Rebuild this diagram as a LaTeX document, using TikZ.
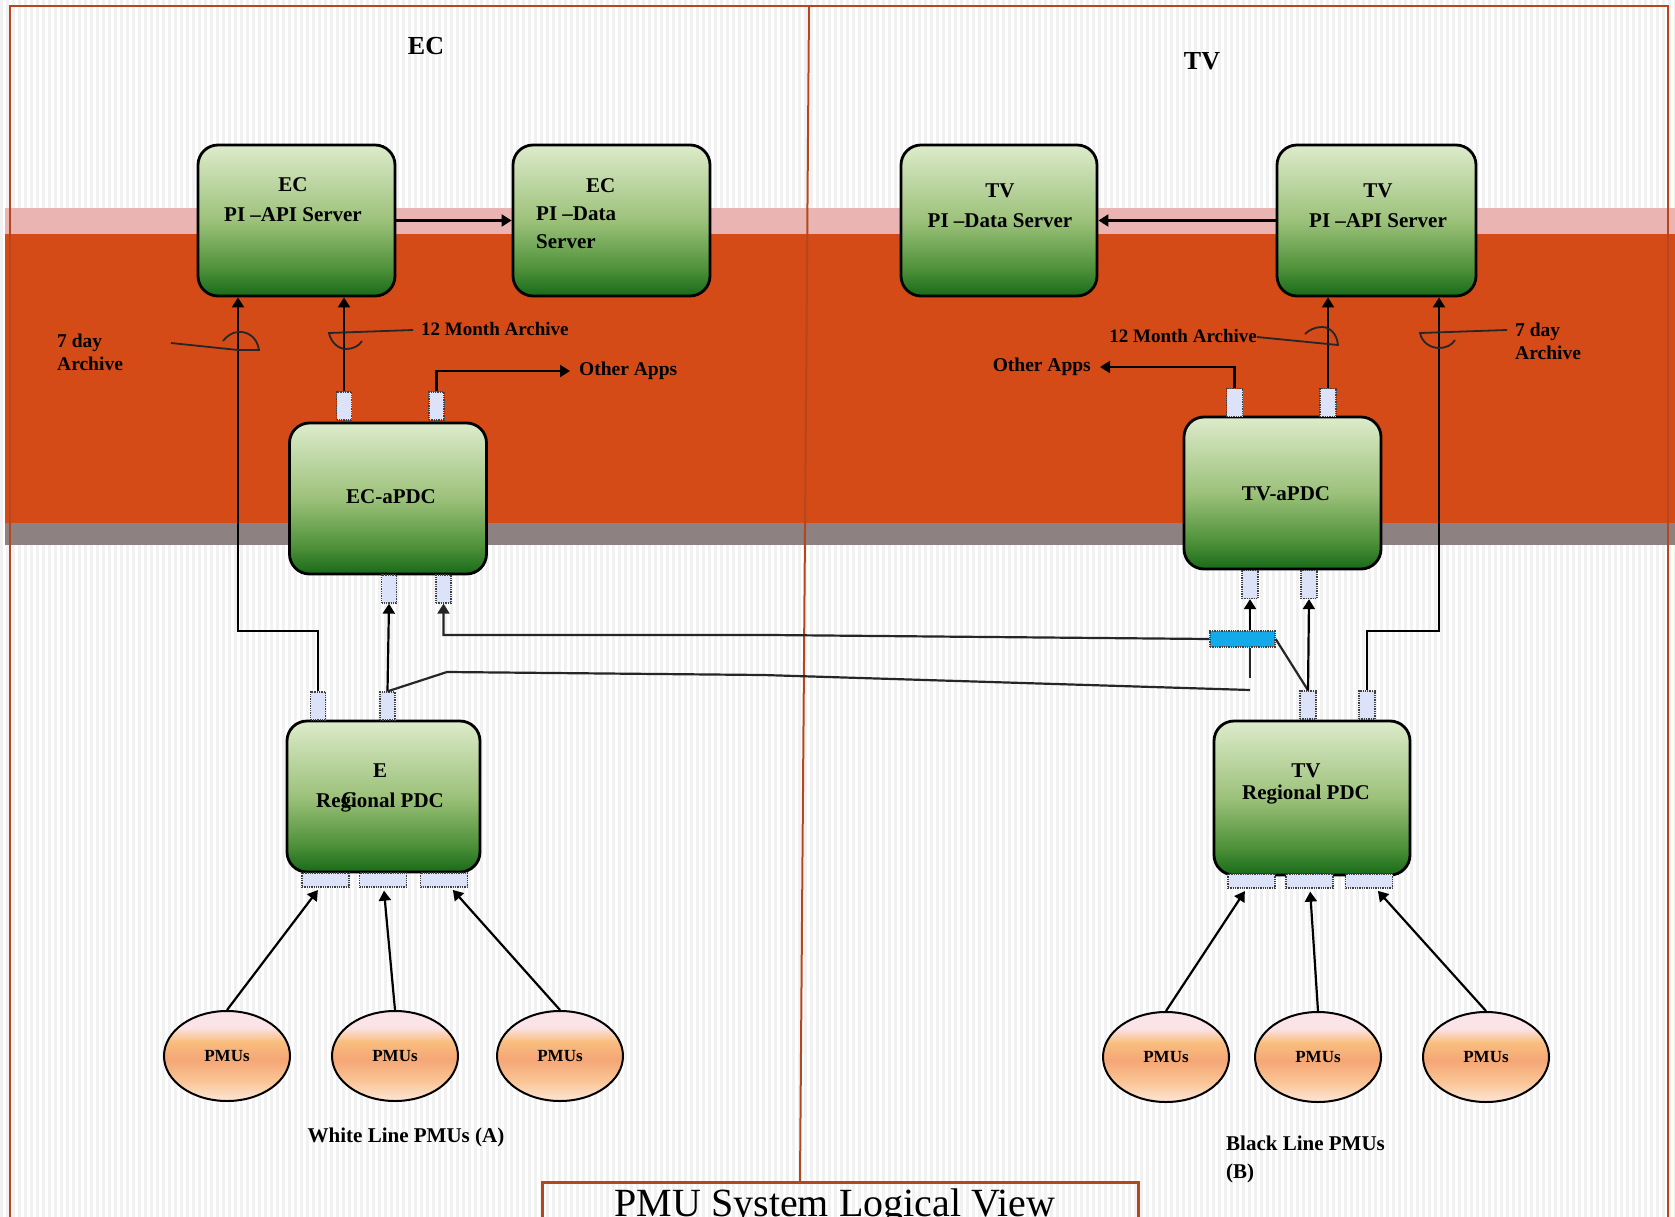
\documentclass[tikz,border=0pt]{standalone}
\usepackage{fontspec}
\setmainfont{Liberation Serif}
\usetikzlibrary{shapes.geometric,arrows.meta,positioning,calc}

\definecolor{frameC}{HTML}{B5461E}
\definecolor{bandOrange}{HTML}{D44B17}
\definecolor{bandPink}{HTML}{E9B4B1}
\definecolor{bandGray}{HTML}{8E8182}
\definecolor{portFill}{HTML}{DCE2F7}
\definecolor{linkBlue}{HTML}{14A9E8}
\definecolor{greenD}{HTML}{186A19}
\definecolor{greenM}{HTML}{4E9139}
\definecolor{greenL}{HTML}{9CC17A}
\definecolor{greenT}{HTML}{DDEBCB}
\definecolor{pmuBot}{HTML}{FDE6D8}
\definecolor{pmuLow}{HTML}{FAC596}
\definecolor{pmuMid}{HTML}{F5A676}
\definecolor{pmuHigh}{HTML}{F9BE7E}
\definecolor{pmuTop}{HTML}{FBE4E8}

\pgfdeclareverticalshading{boxshade}{100bp}{color(0bp)=(greenD); color(25bp)=(greenD);
  color(34bp)=(greenM); color(50bp)=(greenL); color(75bp)=(greenT); color(100bp)=(greenT)}
\pgfdeclareverticalshading{pmushade}{100bp}{color(0bp)=(pmuBot); color(25bp)=(pmuBot);
  color(36bp)=(pmuLow); color(48bp)=(pmuMid); color(58bp)=(pmuHigh); color(66bp)=(pmuTop);
  color(75bp)=(pmuTop); color(100bp)=(pmuTop)}

\tikzset{
  pdcbox/.style={draw, line width=2.8pt, rounded corners=20pt, shading=boxshade,
    minimum width=197pt, minimum height=151pt, inner sep=0pt},
  pmu/.style={ellipse, draw, line width=2pt, shading=pmushade, minimum width=126pt,
    minimum height=90pt, inner sep=0pt, font=\bfseries\fontsize{17}{19}\selectfont},
  vport/.style={draw=black!75, densely dotted, line width=1.3pt, fill=portFill,
    minimum width=15pt, minimum height=28pt, inner sep=0pt},
  hport/.style={vport, minimum width=47pt, minimum height=14pt},
  lbl/.style={inner sep=0pt, align=center, font=\bfseries\fontsize{21}{30}\selectfont},
  small/.style={lbl, font=\bfseries\fontsize{19.5}{22}\selectfont},
  side/.style={lbl, font=\bfseries\fontsize{26}{30}\selectfont},
  arr/.style={-{Triangle[width=12pt,length=10pt]}, line width=2.2pt},
  wire/.style={line width=2.2pt, black!85},
  tie/.style={line width=1.8pt, black!85}
}

\begin{document}
\begin{tikzpicture}[x=1pt, y=-1pt]
  \useasboundingbox (0,0) rectangle (1675,1217);
  % striped background and bands
  \foreach \i in {0,6,...,1674}
    \fill[gray!11] (\i,0) rectangle ++(2.6,1217);
  \fill[bandPink] (5,208) rectangle (1675,234);
  \fill[bandOrange] (5,234) rectangle (1675,523);
  \fill[bandGray] (5,523) rectangle (1675,545);
  \draw[frameC, line width=2.5pt] (10,1217) -- (10,6) -- (1668,6) -- (1668,1217);
  \draw[frameC, line width=2pt] (809,6) -- (800,1182);

  % EC side
  \node[side] (ec) at (426,46) {EC};
  \node[pdcbox] (ecapi) at (296.5,220.5) {};
  \node[pdcbox] (ecdata) at (611.5,220.5) {};
  \node[pdcbox] (ecapdc) at (388,498.5) {};
  \node[pdcbox, minimum width=193pt] (ecrpdc) at (383.5,796.5) {};
  \node[lbl] (ecapitxt) at (293,200) {EC\\PI –API Server};
  \node[lbl, align=left, font=\bfseries\fontsize{21}{28}\selectfont, anchor=west]
    (ecdatatxt) at (536,214) {\hspace*{50pt}EC\\PI –Data\\Server};
  \node[lbl] (ecapdctxt) at (391,497) {EC-aPDC};
  \node[lbl] (ecrpdctxt) at (380,788) {E\\Regional PDC};
  \node[lbl] (ecglitch) at (349,800) {C};

  \node[vport] (ecat1) at (344,406) {};   % aPDC top
  \node[vport] (ecat2) at (436.5,406) {};
  \node[vport] (ecab1) at (389,589) {};   % aPDC bottom
  \node[vport] (ecab2) at (443.5,589) {};
  \node[vport] (ect1) at (318,706) {};    % regional top
  \node[vport] (ect2) at (387.5,706) {};
  \node[hport] (ecb1) at (325.5,880) {};  % regional bottom
  \node[hport] (ecb2) at (383,880) {};
  \node[hport] (ecb3) at (444,880) {};

  \node[pmu] (pmua) at (227,1056) {PMUs};
  \node[pmu] (pmub) at (395,1056) {PMUs};
  \node[pmu] (pmuc) at (560,1056) {PMUs};
  \node[lbl] (whiteline) at (406,1137) {White Line PMUs (A)};

  \node[small, align=left, anchor=west] (ec7day) at (57,352) {7 day\\[1pt]Archive};
  \node[small, font=\bfseries\fontsize{19}{22}\selectfont, anchor=west] (ec12m) at (421,329) {12 Month Archive};
  \node[small, anchor=west, inner xsep=9pt] (ecapps) at (570,371) {Other Apps};

  % TV side
  \node[side] (tv) at (1202,61) {TV};
  \node[pdcbox, minimum width=196pt] (tvdata) at (999,220.5) {};
  \node[pdcbox, minimum width=199pt] (tvapi) at (1376.5,220.5) {};
  \node[pdcbox, minimum height=152pt] (tvapdc) at (1282.5,493) {};
  \node[pdcbox, minimum width=196pt, minimum height=154pt] (tvrpdc) at (1312,798) {};
  \node[lbl] (tvdatatxt) at (1000,206) {TV\\PI –Data Server};
  \node[lbl] (tvapitxt) at (1378,206) {TV\\PI –API Server};
  \node[lbl] (tvapdctxt) at (1286,494) {TV-aPDC};
  \node[lbl, font=\bfseries\fontsize{21}{22}\selectfont] (tvrpdctxt) at (1306,784) {TV\\Regional PDC};

  \node[vport, minimum width=16pt] (tvat1) at (1234.5,402.5) {};
  \node[vport, minimum width=16pt] (tvat2) at (1328,402.5) {};
  \node[vport, minimum width=16pt] (tvab1) at (1250,584.5) {};
  \node[vport, minimum width=16pt] (tvab2) at (1309,584.5) {};
  \node[vport, minimum width=16pt] (tvt1) at (1308,705) {};
  \node[vport, minimum width=16pt] (tvt2) at (1367,705) {};
  \node[hport] (tvb1) at (1251.5,881) {};
  \node[hport] (tvb2) at (1309.5,881) {};
  \node[hport] (tvb3) at (1369,881) {};
  \node[vport, fill=linkBlue, minimum width=65pt, minimum height=16pt] (blue) at (1242.5,639) {};

  \node[pmu] (pmud) at (1166,1057) {PMUs};
  \node[pmu] (pmue) at (1318,1057) {PMUs};
  \node[pmu] (pmuf) at (1486,1057) {PMUs};
  \node[lbl, align=left, anchor=west] (blackline) at (1226,1159) {Black Line PMUs\\[-2pt](B)};

  \node[small, font=\bfseries\fontsize{19}{22}\selectfont, anchor=east] (tv12m) at (1257,336) {12 Month Archive};
  \node[small, anchor=east, inner xsep=9pt] (tvapps) at (1100,367) {Other Apps};
  \node[small, align=left, anchor=west] (tv7day) at (1515,341) {7 day\\[1pt]Archive};

  % title box
  \draw[frameC, line width=3pt] (542,1250) -- (542,1182) -- (1138,1182) -- (1138,1250);
  \node[inner sep=0pt, anchor=base, font=\fontsize{40}{40}\selectfont] (title) at (835,1216) {PMU System Logical View};

  % connectors EC
  \coordinate (ec7) at (238,631);
  \draw[arr] (ecapi) -- (ecdata);
  \draw[arr] (ect1.north) |- (ec7) -- (ec7 |- ecapi.south);
  \draw[arr] (ecat1.north) -- (ecat1.north |- ecapi.south);
  \draw[arr] (ecat2.north) |- (ecapps.west);
  \draw[arr] (ect2.north) -- (ecab1.south);
  \foreach \p/\q in {pmua/ecb1, pmub/ecb2, pmuc/ecb3}
    \draw[arr, shorten >=3pt] (\p.north) -- (\q);

  % cross links
  \coordinate (gap) at (1250,690);
  \draw[wire] (ect2.north) -- (447,672) -- (763,675) -- (gap);
  \draw[arr, black!85] (blue.west) -- (769,635) -| (ecab2.south);
  \draw[arr] (tvab1.south |- blue.north) -- (tvab1.south);
  \draw[wire] (tvab1.south |- blue.south) -- ++(0,30);
  \draw[wire] (blue.east) -- (tvt1.north);

  % connectors TV
  \coordinate (tv7) at (1439,631);
  \draw[arr] (tvapi) -- (tvdata);
  \draw[arr] (tvt1.north) -- (tvab2.south);
  \draw[arr] (tvt2.north) |- (tv7) -- (tv7 |- tvapi.south);
  \draw[arr] (tvat2.north) -- (tvat2.north |- tvapi.south);
  \draw[arr] (tvat1.north) |- (tvapps.east);
  \foreach \p/\q in {pmud/tvb1, pmue/tvb2, pmuf/tvb3}
    \draw[arr, shorten >=3pt] (\p.north) -- (\q);

  % cable ties
  \draw[tie] (171,343) -- (238,350) -- (259,350) .. controls (257,336) and (246,331) .. (238,332)
    .. controls (232,332) and (226,337) .. (223,341);
  \draw[tie] (413,330) -- (329,333) .. controls (331,343) and (339,349) .. (346,349)
    .. controls (353,349) and (359,346) .. (362,341);
  \draw[tie] (1257,337) -- (1338,345) .. controls (1337,334) and (1330,327) .. (1322,327)
    .. controls (1315,327) and (1309,330) .. (1305,334);
  \draw[tie] (1507,330) -- (1420,333) .. controls (1422,343) and (1431,348) .. (1439,348)
    .. controls (1446,348) and (1452,345) .. (1455,340);
\end{tikzpicture}
\end{document}
